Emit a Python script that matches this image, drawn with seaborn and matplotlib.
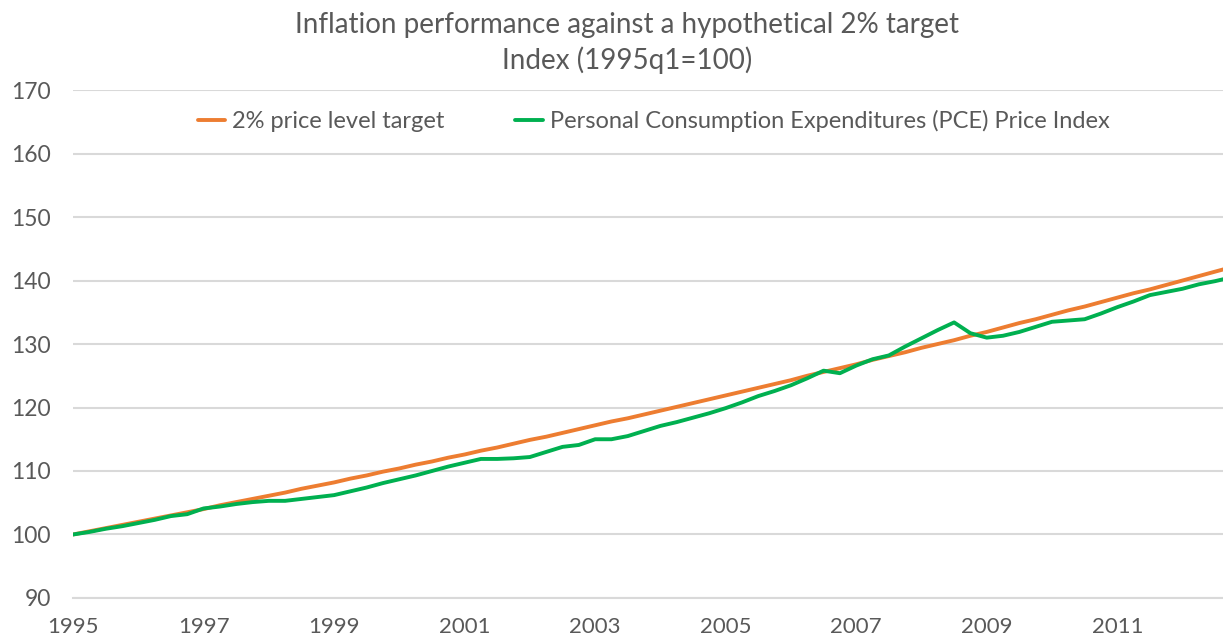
import numpy as np
import matplotlib.pyplot as plt
import pandas as pd
import seaborn as sns

# quarters 1995q1 .. 2012q4
quarters = np.arange(1995, 2013, 0.25)

target_2pct = [100.0, 100.5, 101.0, 101.5, 102.0, 102.5, 103.0, 103.5,
               104.0, 104.6, 105.1, 105.6, 106.1, 106.6, 107.2, 107.7,
               108.2, 108.8, 109.3, 109.9, 110.4, 111.0, 111.5, 112.1,
               112.6, 113.2, 113.7, 114.3, 114.9, 115.4, 116.0, 116.6,
               117.2, 117.8, 118.3, 118.9, 119.5, 120.1, 120.7, 121.3,
               121.9, 122.5, 123.1, 123.7, 124.3, 125.0, 125.6, 126.2,
               126.8, 127.5, 128.1, 128.7, 129.4, 130.0, 130.6, 131.3,
               131.9, 132.6, 133.3, 133.9, 134.6, 135.3, 135.9, 136.6,
               137.3, 138.0, 138.6, 139.3, 140.0, 140.7, 141.4, 142.1]

pce_index = [100.0, 100.4, 100.9, 101.3, 101.8, 102.3, 102.9, 103.2,
             104.1, 104.4, 104.8, 105.1, 105.3, 105.3, 105.6, 105.9,
             106.2, 106.8, 107.4, 108.1, 108.7, 109.3, 110.0, 110.7,
             111.3, 111.9, 111.9, 112.0, 112.2, 113.0, 113.8, 114.1,
             115.0, 115.0, 115.5, 116.3, 117.1, 117.7, 118.4, 119.1,
             119.9, 120.8, 121.8, 122.6, 123.5, 124.6, 125.8, 125.4,
             126.6, 127.6, 128.2, 129.6, 130.9, 132.2, 133.4, 131.7,
             131.0, 131.3, 131.9, 132.7, 133.5, 133.7, 133.9, 134.8,
             135.8, 136.7, 137.7, 138.2, 138.7, 139.4, 139.9, 140.5]

series_names = ["2% price level target",
                "Personal Consumption Expenditures (PCE) Price Index"]
colors = ["#ED7D31", "#00B050"]
year_ticks = [1995, 1997, 1999, 2001, 2003, 2005, 2007, 2009, 2011]
y_ticks = [90, 100, 110, 120, 130, 140, 150, 160, 170]

df = pd.concat([
    pd.DataFrame({"quarter": quarters, "value": target_2pct, "series": series_names[0]}),
    pd.DataFrame({"quarter": quarters, "value": pce_index, "series": series_names[1]}),
])

sns.set_style("white")
plt.rcParams["font.family"] = ["Lato", "DejaVu Sans"]
grey = "#595959"

fig = plt.figure(figsize=(12.23, 6.43), dpi=100)
ax = fig.add_axes([0.0597, 0.070, 0.9403, 0.790])

sns.lineplot(data=df, x="quarter", y="value", hue="series", palette=colors,
             linewidth=2.8, ax=ax, legend=False)

ax.set_xlim(1995, 2012.62)
ax.set_ylim(90, 170)
ax.set_xticks(year_ticks)
ax.set_yticks(y_ticks)
ax.grid(axis="y", color="#d9d9d9", linewidth=1.5)
ax.set_axisbelow(True)
for s in ["left", "right", "top"]:
    ax.spines[s].set_visible(False)
ax.spines["bottom"].set_color("#d9d9d9")
ax.spines["bottom"].set_linewidth(1.5)
ax.tick_params(axis="x", length=5, width=1.5, color="#d9d9d9", pad=9,
               labelsize=16, labelcolor=grey)
ax.tick_params(axis="y", length=0, pad=16, labelsize=16.5, labelcolor=grey)
ax.set_xlabel("")
ax.set_ylabel("")

handles = [plt.Line2D([], [], color=c, linewidth=2.8) for c in colors]
ax.legend(handles, series_names, loc="center", bbox_to_anchor=(0.505, 0.939),
          ncol=2, frameon=False, fontsize=17, labelcolor=grey,
          handlelength=1.15, handletextpad=0.3, columnspacing=3.0)

fig.text(0.513, 0.961, "Inflation performance against a hypothetical 2% target",
         ha="center", va="center", fontsize=20, color=grey)
fig.text(0.513, 0.907, "Index (1995q1=100)", ha="center", va="center",
         fontsize=20, color=grey)

fig.savefig("out.png", dpi=100)
